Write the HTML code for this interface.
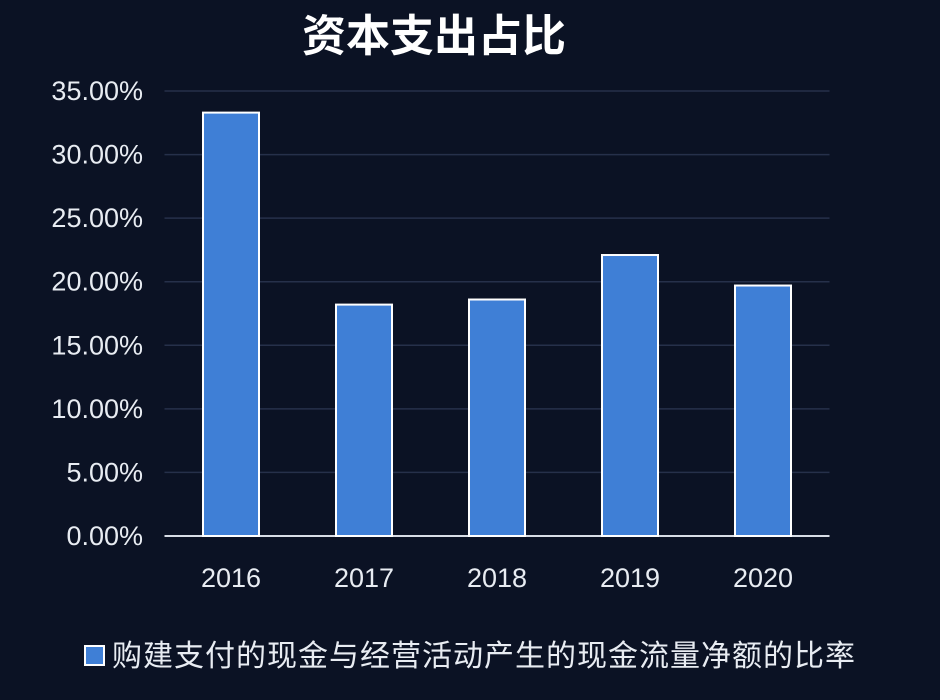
<!DOCTYPE html>
<html><head><meta charset="utf-8"><style>
html,body{margin:0;padding:0;background:#0b1224;}
svg{display:block;}
text{font-family:"Liberation Sans","Noto Sans CJK SC",sans-serif;fill:#e8ecf2;}
</style></head><body>
<svg id="c" width="940" height="700">
<rect x="0" y="0" width="940" height="700" fill="#0b1224"/>
<text x="434" y="51" text-anchor="middle" font-size="44" font-weight="bold" style="fill:#fff">资本支出占比</text>
<g id="grid"></g><g id="bars"></g><g id="xl"></g><g id="yl"></g>
<rect x="85" y="646" width="19" height="19" fill="#3f7fd6" stroke="#ffffff" stroke-width="2"/>
<text x="112" y="666" font-size="30" letter-spacing="1">购建支付的现金与经营活动产生的现金流量净额的比率</text>
</svg>
<script>
const categories=["2016","2017","2018","2019","2020"];
const values=[33.3,18.2,18.6,22.1,19.7];
const yTicks=[0,5,10,15,20,25,30,35];
const yTickLabels=["0.00%","5.00%","10.00%","15.00%","20.00%","25.00%","30.00%","35.00%"];
const NS="http://www.w3.org/2000/svg";
const x0=164.5,x1=829.5,y0=536,yTop=91,ymax=35;
const band=(x1-x0)/categories.length;
const ys=v=>y0-(v/ymax)*(y0-yTop);
const xs=i=>x0+band*(i+0.5);
function mk(t,a,p){const e=document.createElementNS(NS,t);for(const k in a)e.setAttribute(k,a[k]);document.getElementById(p).appendChild(e);return e;}
yTicks.forEach((v,i)=>{
  if(v>0){const l=mk('line',{x1:x0,x2:x1,y1:ys(v),y2:ys(v),stroke:'#26304a','stroke-width':1.5},'grid');
  
  }
  const t=mk('text',{x:143,y:ys(v)+9,'text-anchor':'end','font-size':27},'yl');
  t.textContent=yTickLabels[i];
  
  
});
const ax=mk('line',{x1:x0,x2:x1,y1:y0,y2:y0,stroke:'#d8dde6','stroke-width':2},'grid');


categories.forEach((c,i)=>{
  const w=56;
  const r=mk('rect',{x:xs(i)-w/2,y:ys(values[i]),width:w,height:y0-ys(values[i]),fill:'#3f7fd6',stroke:'#ffffff','stroke-width':2},'bars');
  
  
  const t=mk('text',{x:xs(i),y:587,'text-anchor':'middle','font-size':27},'xl');
  t.textContent=c;
  
  
});
</script>
</body></html>
